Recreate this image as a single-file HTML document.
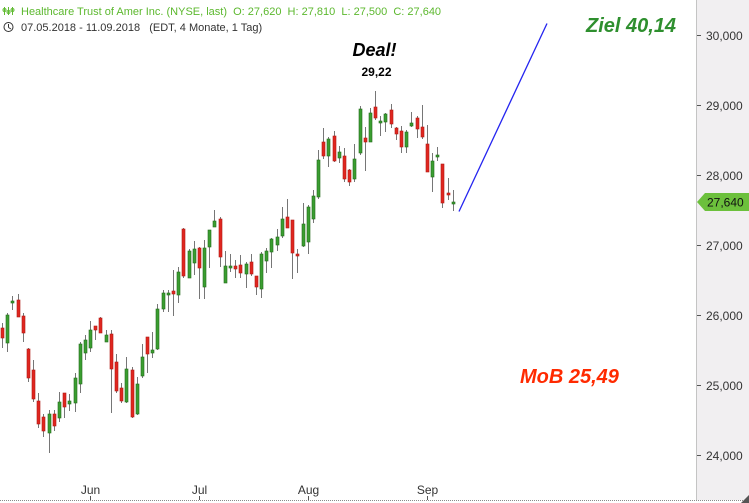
<!DOCTYPE html>
<html>
<head>
<meta charset="utf-8">
<style>
  html,body{margin:0;padding:0;background:#fff;}
  body{width:749px;height:503px;overflow:hidden;}
  svg{display:block;}
  .w{fill:#767676;}
  .r{fill:#e0261f;stroke:#b01a14;stroke-width:0.6;}
  .g{fill:#3a9e30;stroke:#236b1c;stroke-width:0.6;}
  text{font-family:"Liberation Sans",Arial,sans-serif;}
</style>
</head>
<body>
<svg width="749" height="503" viewBox="0 0 749 503" xmlns="http://www.w3.org/2000/svg">
  <rect x="0" y="0" width="749" height="503" fill="#fff"/>

  <!-- right axis panel -->
  <rect x="696" y="0" width="53" height="500" fill="#f1eff1"/>
  <line x1="696.5" y1="0" x2="696.5" y2="500" stroke="#c4c4c4" stroke-width="1"/>

  <!-- y ticks -->
  <g stroke="#555" stroke-width="1">
    <line x1="697" y1="35.5" x2="701" y2="35.5"/>
    <line x1="697" y1="105.5" x2="701" y2="105.5"/>
    <line x1="697" y1="175.5" x2="701" y2="175.5"/>
    <line x1="697" y1="245.5" x2="701" y2="245.5"/>
    <line x1="697" y1="315.5" x2="701" y2="315.5"/>
    <line x1="697" y1="385.5" x2="701" y2="385.5"/>
    <line x1="697" y1="455.5" x2="701" y2="455.5"/>
  </g>
  <g font-size="12" fill="#333">
    <text x="706" y="40">30,000</text>
    <text x="706" y="110">29,000</text>
    <text x="706" y="180">28,000</text>
    <text x="706" y="250">27,000</text>
    <text x="706" y="320">26,000</text>
    <text x="706" y="390">25,000</text>
    <text x="706" y="460">24,000</text>
  </g>

  <!-- last price tag -->
  <polygon points="697,202 705,193 749,193 749,211 705,211" fill="#6cc03c"/>
  <text x="707" y="206.5" font-size="12" fill="#111">27,640</text>

  <!-- bottom axis -->
  <line x1="0" y1="500.5" x2="746" y2="500.5" stroke="#8a8a8a" stroke-width="1" stroke-dasharray="1,1"/>
  <g stroke="#555" stroke-width="1">
    <line x1="90.5" y1="496" x2="90.5" y2="500"/>
    <line x1="199.5" y1="496" x2="199.5" y2="500"/>
    <line x1="308.5" y1="496" x2="308.5" y2="500"/>
    <line x1="427.5" y1="496" x2="427.5" y2="500"/>
  </g>
  <g font-size="12" fill="#333" text-anchor="middle">
    <text x="90.5" y="494">Jun</text>
    <text x="199.5" y="494">Jul</text>
    <text x="308.5" y="494">Aug</text>
    <text x="427.5" y="494">Sep</text>
  </g>
  <polygon points="749,495 749,503 741,503" fill="#555"/>

  <!-- header -->
  <g stroke="#5fba30" stroke-width="1" fill="none">
    <line x1="4.5" y1="7" x2="4.5" y2="15"/>
    <line x1="8.5" y1="7" x2="8.5" y2="15"/>
    <line x1="12.5" y1="7" x2="12.5" y2="15"/>
    <circle cx="4.5" cy="10" r="1.5"/>
    <circle cx="8.5" cy="12" r="1.5"/>
    <circle cx="12.5" cy="10" r="1.5"/>
  </g>
  <text x="21" y="15" font-size="11" fill="#5cb82e" xml:space="preserve">Healthcare Trust of Amer Inc. (NYSE, last)  O: 27,620  H: 27,810  L: 27,500  C: 27,640</text>
  <g stroke="#333" stroke-width="1" fill="none">
    <circle cx="8.5" cy="27" r="4.5"/>
    <line x1="8.5" y1="24" x2="8.5" y2="27.5"/>
    <line x1="8.5" y1="27.5" x2="11" y2="29"/>
  </g>
  <text x="21" y="31" font-size="11" fill="#333" xml:space="preserve">07.05.2018 - 11.09.2018   (EDT, 4 Monate, 1 Tag)</text>

  <!-- annotations -->
  <text x="374.5" y="56" font-size="18" font-weight="bold" font-style="italic" fill="#000" text-anchor="middle">Deal!</text>
  <text x="376.5" y="76" font-size="12" font-weight="bold" fill="#000" text-anchor="middle">29,22</text>
  <text x="586" y="32" font-size="20" font-weight="bold" font-style="italic" fill="#2e8f2e">Ziel 40,14</text>
  <text x="520" y="383" font-size="20" font-weight="bold" font-style="italic" fill="#ff2a00">MoB 25,49</text>

  <!-- target line -->
  <line x1="459" y1="211.5" x2="547" y2="23.5" stroke="#2424f0" stroke-width="1.3"/>

  <!-- candles -->
  <g>
    <rect class="w" x="2" y="323" width="1" height="25"/><rect class="r" x="1" y="328" width="3" height="10"/>
    <rect class="w" x="7" y="313" width="1" height="39"/><rect class="g" x="6" y="315" width="3" height="28"/>
    <rect class="w" x="12" y="296" width="1" height="14"/><rect class="g" x="11" y="301" width="3" height="2"/>
    <rect class="w" x="18" y="294" width="1" height="23"/><rect class="r" x="17" y="300" width="3" height="17"/>
    <rect class="w" x="23" y="313" width="1" height="29"/><rect class="r" x="22" y="316" width="3" height="17"/>
    <rect class="w" x="28" y="348" width="1" height="34"/><rect class="r" x="27" y="349" width="3" height="29"/>
    <rect class="w" x="33" y="360" width="1" height="42"/><rect class="r" x="32" y="370" width="3" height="29"/>
    <rect class="w" x="38" y="393" width="1" height="35"/><rect class="r" x="37" y="401" width="3" height="23"/>
    <rect class="w" x="43" y="414" width="1" height="23"/><rect class="r" x="42" y="417" width="3" height="14"/>
    <rect class="w" x="49" y="410" width="1" height="43"/><rect class="g" x="48" y="414" width="3" height="19"/>
    <rect class="w" x="54" y="410" width="1" height="21"/><rect class="r" x="53" y="414" width="3" height="12"/>
    <rect class="w" x="59" y="392" width="1" height="30"/><rect class="g" x="58" y="402" width="3" height="16"/>
    <rect class="w" x="64" y="393" width="1" height="25"/><rect class="r" x="63" y="393" width="3" height="14"/>
    <rect class="w" x="69" y="394" width="1" height="17"/><rect class="g" x="68" y="401" width="3" height="3"/>
    <rect class="w" x="75" y="373" width="1" height="39"/><rect class="g" x="74" y="378" width="3" height="25"/>
    <rect class="w" x="80" y="342" width="1" height="51"/><rect class="g" x="79" y="344" width="3" height="40"/>
    <rect class="w" x="85" y="335" width="1" height="25"/><rect class="g" x="84" y="340" width="3" height="13"/>
    <rect class="w" x="90" y="321" width="1" height="31"/><rect class="g" x="89" y="330" width="3" height="18"/>
    <rect class="w" x="95" y="326" width="1" height="14"/><rect class="r" x="94" y="326" width="3" height="4"/>
    <rect class="w" x="100" y="317" width="1" height="16"/><rect class="r" x="99" y="318" width="3" height="15"/>
    <rect class="w" x="106" y="330" width="1" height="12"/><rect class="g" x="105" y="335" width="3" height="7"/>
    <rect class="w" x="111" y="330" width="1" height="83"/><rect class="r" x="110" y="334" width="3" height="35"/>
    <rect class="w" x="116" y="354" width="1" height="39"/><rect class="r" x="115" y="362" width="3" height="29"/>
    <rect class="w" x="121" y="383" width="1" height="20"/><rect class="r" x="120" y="388" width="3" height="13"/>
    <rect class="w" x="126" y="357" width="1" height="46"/><rect class="g" x="125" y="369" width="3" height="33"/>
    <rect class="w" x="132" y="367" width="1" height="51"/><rect class="r" x="131" y="370" width="3" height="47"/>
    <rect class="w" x="137" y="377" width="1" height="38"/><rect class="g" x="136" y="384" width="3" height="30"/>
    <rect class="w" x="142" y="344" width="1" height="34"/><rect class="g" x="141" y="357" width="3" height="19"/>
    <rect class="w" x="147" y="337" width="1" height="36"/><rect class="r" x="146" y="337" width="3" height="17"/>
    <rect class="w" x="152" y="332" width="1" height="26"/><rect class="g" x="151" y="350" width="3" height="3"/>
    <rect class="w" x="157" y="304" width="1" height="46"/><rect class="g" x="156" y="309" width="3" height="40"/>
    <rect class="w" x="163" y="290" width="1" height="22"/><rect class="g" x="162" y="293" width="3" height="16"/>
    <rect class="w" x="168" y="290" width="1" height="22"/><rect class="g" x="167" y="293" width="3" height="2"/>
    <rect class="w" x="173" y="270" width="1" height="46"/><rect class="r" x="172" y="291" width="3" height="3"/>
    <rect class="w" x="178" y="267" width="1" height="36"/><rect class="g" x="177" y="272" width="3" height="23"/>
    <rect class="w" x="183" y="228" width="1" height="50"/><rect class="r" x="182" y="229" width="3" height="47"/>
    <rect class="w" x="189" y="249" width="1" height="29"/><rect class="g" x="188" y="251" width="3" height="27"/>
    <rect class="w" x="194" y="241" width="1" height="34"/><rect class="g" x="193" y="249" width="3" height="14"/>
    <rect class="w" x="199" y="247" width="1" height="52"/><rect class="r" x="198" y="248" width="3" height="20"/>
    <rect class="w" x="204" y="240" width="1" height="59"/><rect class="g" x="203" y="248" width="3" height="39"/>
    <rect class="w" x="209" y="230" width="1" height="38"/><rect class="g" x="208" y="230" width="3" height="17"/>
    <rect class="w" x="214" y="210" width="1" height="17"/><rect class="g" x="213" y="221" width="3" height="6"/>
    <rect class="w" x="220" y="217" width="1" height="50"/><rect class="r" x="219" y="219" width="3" height="38"/>
    <rect class="w" x="225" y="251" width="1" height="32"/><rect class="g" x="224" y="266" width="3" height="17"/>
    <rect class="w" x="230" y="254" width="1" height="18"/><rect class="g" x="229" y="266" width="3" height="2"/>
    <rect class="w" x="235" y="260" width="1" height="18"/><rect class="r" x="234" y="266" width="3" height="3"/>
    <rect class="w" x="240" y="255" width="1" height="23"/><rect class="r" x="239" y="265" width="3" height="8"/>
    <rect class="w" x="246" y="262" width="1" height="26"/><rect class="g" x="245" y="264" width="3" height="10"/>
    <rect class="w" x="251" y="254" width="1" height="22"/><rect class="r" x="250" y="262" width="3" height="12"/>
    <rect class="w" x="256" y="276" width="1" height="19"/><rect class="r" x="255" y="276" width="3" height="11"/>
    <rect class="w" x="261" y="252" width="1" height="46"/><rect class="g" x="260" y="254" width="3" height="35"/>
    <rect class="w" x="266" y="248" width="1" height="25"/><rect class="g" x="265" y="251" width="3" height="10"/>
    <rect class="w" x="271" y="238" width="1" height="30"/><rect class="g" x="270" y="239" width="3" height="13"/>
    <rect class="w" x="277" y="229" width="1" height="22"/><rect class="g" x="276" y="237" width="3" height="8"/>
    <rect class="w" x="282" y="207" width="1" height="31"/><rect class="g" x="281" y="219" width="3" height="17"/>
    <rect class="w" x="287" y="199" width="1" height="29"/><rect class="r" x="286" y="217" width="3" height="11"/>
    <rect class="w" x="292" y="220" width="1" height="59"/><rect class="r" x="291" y="220" width="3" height="33"/>
    <rect class="w" x="297" y="249" width="1" height="24"/><rect class="r" x="296" y="254" width="3" height="2"/>
    <rect class="w" x="303" y="203" width="1" height="44"/><rect class="g" x="302" y="224" width="3" height="22"/>
    <rect class="w" x="308" y="205" width="1" height="49"/><rect class="g" x="307" y="207" width="3" height="35"/>
    <rect class="w" x="313" y="190" width="1" height="33"/><rect class="g" x="312" y="196" width="3" height="23"/>
    <rect class="w" x="318" y="150" width="1" height="49"/><rect class="g" x="317" y="160" width="3" height="37"/>
    <rect class="w" x="323" y="128" width="1" height="31"/><rect class="r" x="322" y="142" width="3" height="14"/>
    <rect class="w" x="328" y="137" width="1" height="30"/><rect class="g" x="327" y="139" width="3" height="17"/>
    <rect class="w" x="334" y="131" width="1" height="31"/><rect class="r" x="333" y="136" width="3" height="25"/>
    <rect class="w" x="339" y="146" width="1" height="17"/><rect class="g" x="338" y="152" width="3" height="6"/>
    <rect class="w" x="344" y="148" width="1" height="34"/><rect class="r" x="343" y="156" width="3" height="23"/>
    <rect class="w" x="349" y="169" width="1" height="17"/><rect class="r" x="348" y="170" width="3" height="12"/>
    <rect class="w" x="354" y="144" width="1" height="38"/><rect class="g" x="353" y="159" width="3" height="20"/>
    <rect class="w" x="360" y="106" width="1" height="49"/><rect class="g" x="359" y="109" width="3" height="44"/>
    <rect class="w" x="365" y="127" width="1" height="44"/><rect class="r" x="364" y="138" width="3" height="4"/>
    <rect class="w" x="370" y="108" width="1" height="34"/><rect class="g" x="369" y="113" width="3" height="29"/>
    <rect class="w" x="375" y="91" width="1" height="29"/><rect class="r" x="374" y="107" width="3" height="11"/>
    <rect class="w" x="380" y="116" width="1" height="20"/><rect class="g" x="379" y="121" width="3" height="2"/>
    <rect class="w" x="385" y="113" width="1" height="19"/><rect class="g" x="384" y="114" width="3" height="8"/>
    <rect class="w" x="391" y="104" width="1" height="24"/><rect class="r" x="390" y="110" width="3" height="14"/>
    <rect class="w" x="396" y="127" width="1" height="13"/><rect class="r" x="395" y="128" width="3" height="6"/>
    <rect class="w" x="401" y="126" width="1" height="27"/><rect class="r" x="400" y="131" width="3" height="16"/>
    <rect class="w" x="406" y="130" width="1" height="23"/><rect class="g" x="405" y="132" width="3" height="15"/>
    <rect class="w" x="411" y="112" width="1" height="15"/><rect class="g" x="410" y="123" width="3" height="3"/>
    <rect class="w" x="417" y="116" width="1" height="22"/><rect class="r" x="416" y="118" width="3" height="11"/>
    <rect class="w" x="422" y="105" width="1" height="34"/><rect class="r" x="421" y="127" width="3" height="10"/>
    <rect class="w" x="427" y="125" width="1" height="47"/><rect class="r" x="426" y="144" width="3" height="28"/>
    <rect class="w" x="432" y="153" width="1" height="39"/><rect class="g" x="431" y="161" width="3" height="16"/>
    <rect class="w" x="437" y="147" width="1" height="14"/><rect class="g" x="436" y="155" width="3" height="2"/>
    <rect class="w" x="442" y="164" width="1" height="44"/><rect class="r" x="441" y="164" width="3" height="39"/>
    <rect class="w" x="448" y="178" width="1" height="22"/><rect class="r" x="447" y="193" width="3" height="2"/>
    <rect class="w" x="453" y="190" width="1" height="21"/><rect class="g" x="452" y="202" width="3" height="2"/>
  </g>
</svg>
</body>
</html>
